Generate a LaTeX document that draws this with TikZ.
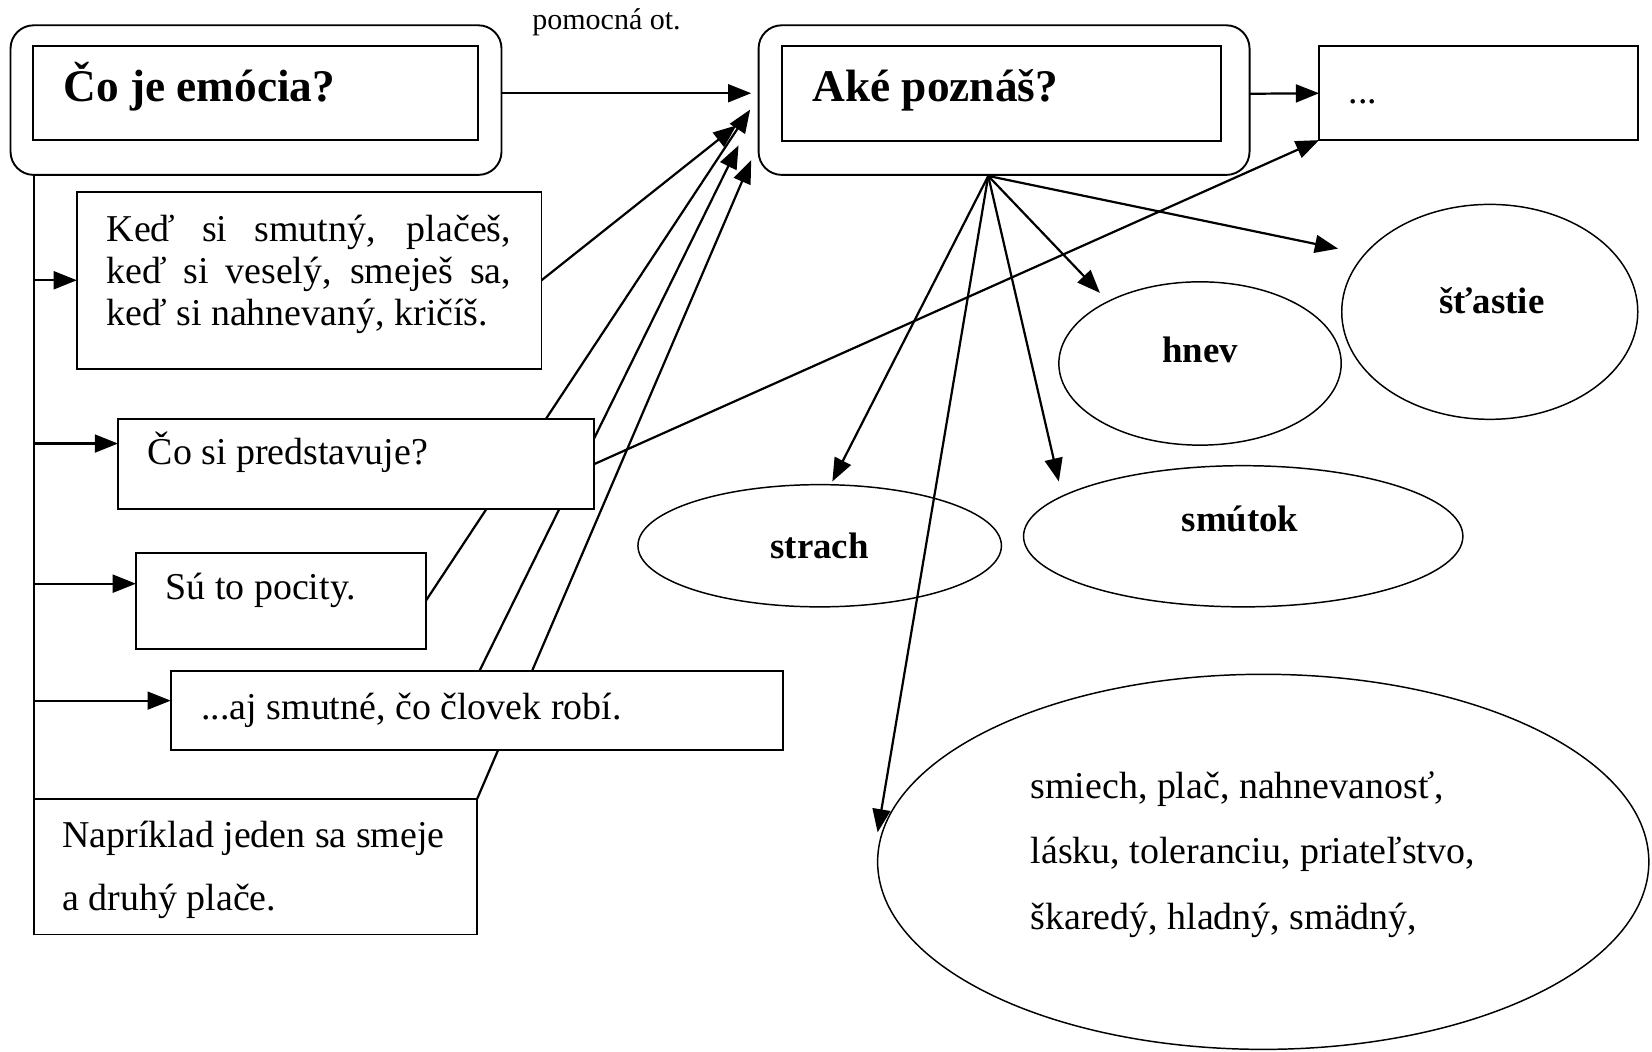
\documentclass[tikz,border=0pt]{standalone}
\usepackage{fontspec}
\setmainfont{Liberation Serif}
\usetikzlibrary{arrows.meta,shapes.geometric,calc}
\pgfdeclarelayer{bg}
\pgfsetlayers{bg,main}
\begin{document}
\begin{tikzpicture}[x=1pt,y=-1pt,
  box/.style={draw, line width=1.8pt, fill=white, inner sep=0pt, outer sep=0pt, anchor=north west},
  rbox/.style={box, rounded corners=22pt},
  oval/.style={draw, ellipse, line width=1.4pt, inner sep=0pt, outer sep=0pt},
  txt/.style={anchor=base west, inner sep=0pt, font=\fontsize{36}{40}\selectfont},
  smalltxt/.style={anchor=base west, inner sep=0pt, font=\fontsize{28.5}{32}\selectfont},
  head/.style={anchor=base west, inner sep=0pt, font=\fontsize{43}{48}\selectfont\bfseries},
  lbl/.style={anchor=base, inner sep=0pt, font=\fontsize{35}{40}\selectfont\bfseries},
  arr/.style={line width=2.1pt, -{Triangle[length=22pt,width=17pt]}},
  ln/.style={line width=2.1pt}
]
\useasboundingbox (0,0) rectangle (1568,998);

% ---- boxes ----
\node[rbox, minimum width=466pt, minimum height=142pt] (Aout) at (10,24) {};
\node[box, minimum width=423pt, minimum height=89pt] (Ain) at (31,44) {};
\node[rbox, minimum width=466pt, minimum height=142pt] (Bout) at (720,24) {};
\node[box, minimum width=417pt, minimum height=90pt] (Bin) at (742,44) {};
\node[box, minimum width=303pt, minimum height=89pt] (C) at (1252,44) {};
\node[box, minimum width=441pt, minimum height=168pt] (ked) at (73,182) {};
\node[box, minimum width=452pt, minimum height=85pt] (cosi) at (112,398) {};
\node[box, minimum width=275pt, minimum height=91pt] (su) at (129,525) {};
\node[box, minimum width=581pt, minimum height=75pt] (aj) at (162,637) {};
\node[box, minimum width=421pt, minimum height=129pt] (nap) at (32,758) {};

% ---- ellipses ----
\node[oval, minimum width=281pt, minimum height=204pt] (stastie) at (1414,296) {};
\node[oval, minimum width=268pt, minimum height=155pt] (hnev) at (1139,345) {};
\node[oval, minimum width=417pt, minimum height=134pt] (smutok) at (1180,509) {};
\node[oval, minimum width=345pt, minimum height=116pt] (strach) at (778,518) {};
\node[oval, minimum width=732pt, minimum height=356pt] (big) at (1199,818) {};

% ---- texts ----
\node[head] (AinT) at (60,96) {Čo je emócia?};
\node[head] (BinT) at (771,96) {Aké poznáš?};
\node[txt] (CT) at (1280,98) {...};
\node[smalltxt] (pom) at (505,28) {pomocná ot.};
\node[txt] (kedT) at (101,229) {\parbox[t]{384pt}{\baselineskip=40pt
  \makebox[384pt][s]{Keď si smutný, plačeš,}\\
  \makebox[384pt][s]{keď si veselý, smeješ sa,}\\
  keď si nahnevaný, kričíš.}};
\node[txt] (cosiT) at (140,441) {Čo si predstavuje?};
\node[txt] (suT) at (157,569) {Sú to pocity.};
\node[txt] (ajT) at (191,683) {...aj smutné, čo človek robí.};
\node[txt] (napT) at (59,804) {\parbox[t]{390pt}{\baselineskip=60pt
  Napríklad jeden sa smeje\\
  a druhý plače.}};
\node[lbl] (stastieT) at (1416,298) {šťastie};
\node[lbl] (hnevT) at (1139,344) {hnev};
\node[lbl] (smutokT) at (1177,504) {smútok};
\node[lbl] (strachT) at (778,530) {strach};
\node[txt] (bigT) at (978,758) {\parbox[t]{460pt}{\baselineskip=62pt
  smiech, plač, nahnevanosť,\\
  lásku, toleranciu, priateľstvo,\\
  škaredý, hladný, smädný,}};

% ---- connectors (behind the boxes) ----
\begin{pgfonlayer}{bg}
\coordinate (vtop) at (32,166);
\coordinate (ajTop) at (455,637);
\coordinate (tKed) at (699,119);
\coordinate (tSu) at (712,104);
\coordinate (tAj) at (701,138);
\coordinate (tNap) at (713,152);
\coordinate (fan) at (938,167);
\coordinate (tSt) at (1270,236);
\coordinate (tHn) at (1044,278);
\coordinate (tSm) at (1005,457);
\coordinate (tStr) at (790,457);
\coordinate (tBig) at (833,790);
\path (cosi.north west) ++(0,23) coordinate (cosiIn);
\path (su.north west) ++(0,29) coordinate (suIn);
\path (aj.north west) ++(0,28) coordinate (ajIn);

\draw[ln] (vtop) -- (nap.north west);
\draw[arr] (vtop |- ked.west) -- (ked.west);
\draw[arr] (vtop |- cosiIn) -- (cosiIn);
\draw[arr] (vtop |- suIn) -- (suIn);
\draw[arr] (vtop |- ajIn) -- (ajIn);

\draw[arr, shorten >=7pt] (Aout.east |- Ain.east) -- (Bout.west |- Ain.east);
\draw[arr] (Bout.east |- Bin.east) -- (C.west);
\draw[arr] (ked.east) -- (tKed);
\draw[arr] (su.east) -- (tSu);
\draw[arr] (ajTop) -- (tAj);
\draw[arr] (nap.north east) -- (tNap);
\draw[arr] (cosi.east) -- (C.south west);

\draw[arr] (fan) -- (tSt);
\draw[arr] (fan) -- (tHn);
\draw[arr] (fan) -- (tSm);
\draw[arr] (fan) -- (tStr);
\draw[arr] (fan) -- (tBig);
\end{pgfonlayer}
\end{tikzpicture}
\end{document}
